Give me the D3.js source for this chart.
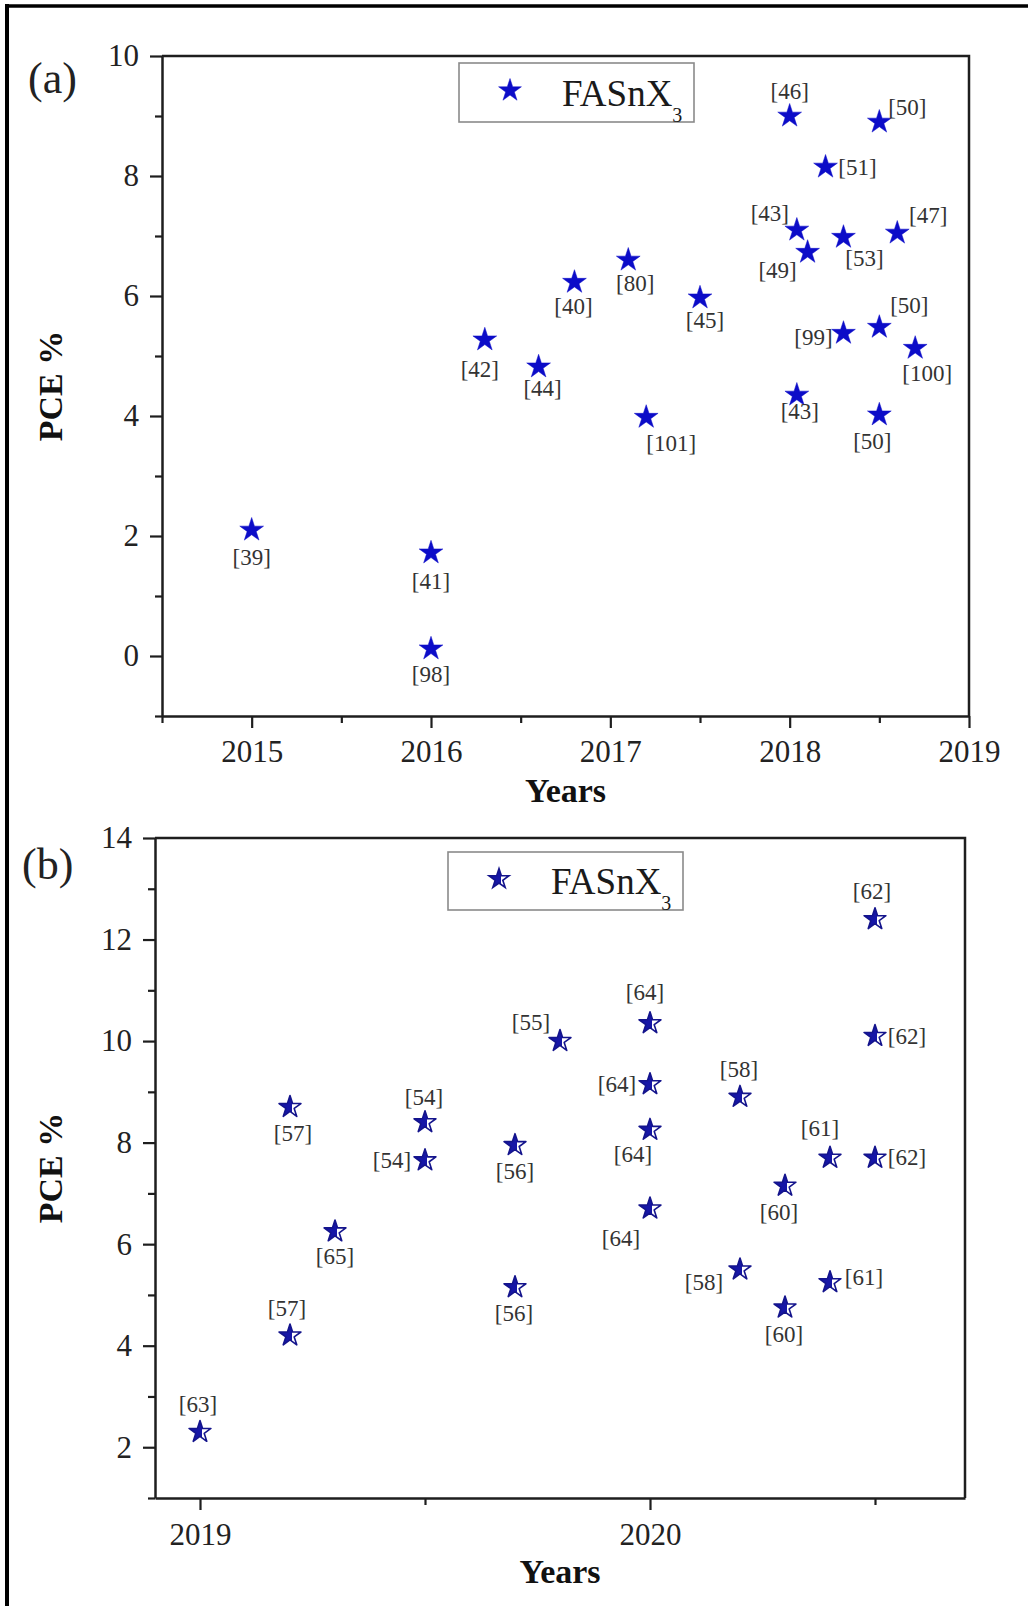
<!DOCTYPE html>
<html>
<head>
<meta charset="utf-8">
<script src="https://cdn.jsdelivr.net/npm/d3@7"></script>
<style>
  body { margin: 0; background: #fff; }
  svg { display: block; }
  text { font-family: "Liberation Serif", "Times New Roman", serif; }
</style>
</head>
<body>
<svg id="chart" width="1028" height="1606"></svg>
<script>
// ---- Panel (a): FASnX3 cells, 2015–2018 ----
const yearsA = [2015, 2016, 2016, 2016.3, 2016.6, 2016.8, 2017.1, 2017.2, 2017.5, 2018.0, 2018.04,
                2018.1, 2018.04, 2018.2, 2018.3, 2018.3, 2018.5, 2018.5, 2018.5, 2018.6, 2018.7];
const pceA   = [2.1, 1.72, 0.12, 5.27, 4.82, 6.23, 6.6, 3.98, 5.97, 9.0, 7.1,
                6.73, 4.35, 8.15, 6.98, 5.38, 8.9, 5.48, 4.02, 7.05, 5.13];
const refsA  = ["[39]", "[41]", "[98]", "[42]", "[44]", "[40]", "[80]", "[101]", "[45]", "[46]", "[43]",
                "[49]", "[43]", "[51]", "[53]", "[99]", "[50]", "[50]", "[50]", "[47]", "[100]"];
// label nudges from each marker, in px
const nudgeA = [[0,27],[0,29],[0,26],[-5,30],[4,22],[-1,24],[7,23],[25,26],[5,23],[0,-25],[-27,-17],
                [-30,18],[3,16],[32,0],[21,21],[-30,4],[28,-15],[30,-22],[-7,27],[31,-18],[12,25]];
const xMajorA = [2015, 2016, 2017, 2018, 2019];
const xMinorA = [2014.5, 2015.5, 2016.5, 2017.5, 2018.5];
const yMajorA = [0, 2, 4, 6, 8, 10];
const yMinorA = [-1, 1, 3, 5, 7, 9];

// ---- Panel (b): FASnX3 cells, 2019–2020 ----
const yearsB = [2019.0, 2019.2, 2019.2, 2019.3, 2019.5, 2019.5, 2019.7, 2019.7, 2019.8, 2020.0, 2020.0,
                2020.0, 2020.0, 2020.2, 2020.2, 2020.3, 2020.3, 2020.4, 2020.4, 2020.5, 2020.5, 2020.5];
const pceB   = [2.3, 4.2, 8.7, 6.25, 8.4, 7.65, 7.95, 5.15, 10.0, 10.35, 9.15,
                8.25, 6.7, 8.9, 5.5, 7.15, 4.75, 7.7, 5.25, 12.4, 10.1, 7.7];
const refsB  = ["[63]", "[57]", "[57]", "[65]", "[54]", "[54]", "[56]", "[56]", "[55]", "[64]", "[64]",
                "[64]", "[64]", "[58]", "[58]", "[60]", "[60]", "[61]", "[61]", "[62]", "[62]", "[62]"];
const nudgeB = [[-2,-28],[-3,-27],[3,26],[0,25],[-1,-25],[-33,0],[0,26],[-1,26],[-29,-19],[-5,-31],[-33,0],
                [-17,25],[-29,30],[-1,-27],[-36,13],[-6,27],[-1,27],[-10,-29],[34,-5],[-3,-28],[32,0],[32,0]];
const xMajorB = [2019, 2020];
const xMinorB = [2019.5, 2020.5];
const yMajorB = [2, 4, 6, 8, 10, 12, 14];
const yMinorB = [1, 3, 5, 7, 9, 11, 13];

const seriesName = "FASnX";
const seriesSub = "3";

const svg = d3.select("#chart");
const ink = "#1e1e1e";

// half-filled star used in panel (b)
const defs = svg.append("defs");
const grad = defs.append("linearGradient").attr("id", "halfStar")
  .attr("x1", 0).attr("x2", 1).attr("y1", 0).attr("y2", 0);
grad.append("stop").attr("offset", "0.58").attr("stop-color", "#1616a6");
grad.append("stop").attr("offset", "0.58").attr("stop-color", "#ffffff");

// outer frame (left and top edges)
svg.append("line").attr("x1", 7).attr("x2", 7).attr("y1", 4).attr("y2", 1606)
  .attr("stroke", "#000").attr("stroke-width", 4);
svg.append("line").attr("x1", 5).attr("x2", 1028).attr("y1", 6).attr("y2", 6)
  .attr("stroke", "#000").attr("stroke-width", 3.5);

function starPath(r) {
  return d3.symbol().type(d3.symbolStar).size(r * r / 0.8908130915292852)();
}

function panel(cfg) {
  const x = d3.scaleLinear().domain(cfg.xDomain).range([cfg.left, cfg.right]);
  const y = d3.scaleLinear().domain(cfg.yDomain).range([cfg.bottom, cfg.top]);
  const g = svg.append("g");

  // plot box (top and right edges)
  g.append("path")
    .attr("d", `M${cfg.left},${cfg.top}H${cfg.right}V${cfg.bottom}`)
    .attr("fill", "none").attr("stroke", ink).attr("stroke-width", 2.5);

  const styleAxis = sel => {
    sel.select(".domain").attr("stroke", ink).attr("stroke-width", 2.5);
    sel.selectAll(".tick line").attr("stroke", ink).attr("stroke-width", 2.2);
    sel.selectAll(".tick text").attr("fill", "#222").attr("font-size", 31)
      .attr("font-family", "'Liberation Serif', 'Times New Roman', serif");
  };

  // minor ticks
  g.append("g").attr("transform", `translate(0,${cfg.bottom})`)
    .call(d3.axisBottom(x).tickValues(cfg.xMinor).tickSize(7).tickSizeOuter(0).tickFormat(""))
    .call(styleAxis).call(s => s.select(".domain").remove());
  g.append("g").attr("transform", `translate(${cfg.left},0)`)
    .call(d3.axisLeft(y).tickValues(cfg.yMinor).tickSize(7).tickSizeOuter(0).tickFormat(""))
    .call(styleAxis).call(s => s.select(".domain").remove());

  // major ticks with labels
  g.append("g").attr("transform", `translate(0,${cfg.bottom})`)
    .call(d3.axisBottom(x).tickValues(cfg.xMajor).tickSize(12).tickSizeOuter(0)
      .tickPadding(cfg.xPad).tickFormat(d3.format("d")))
    .call(styleAxis);
  g.append("g").attr("transform", `translate(${cfg.left},0)`)
    .call(d3.axisLeft(y).tickValues(cfg.yMajor).tickSize(12).tickSizeOuter(0)
      .tickPadding(cfg.yPad).tickFormat(d3.format("d")))
    .call(styleAxis);

  // axis titles
  g.append("text")
    .attr("x", (cfg.left + cfg.right) / 2).attr("y", cfg.xTitleY)
    .attr("text-anchor", "middle").attr("font-weight", "bold").attr("font-size", 34)
    .attr("fill", "#111").text("Years");
  g.append("text")
    .attr("transform", `translate(62,${(cfg.top + cfg.bottom) / 2}) rotate(-90)`)
    .attr("text-anchor", "middle").attr("font-weight", "bold").attr("font-size", 34)
    .attr("fill", "#111").text("PCE %");

  // panel letter
  g.append("text").attr("x", cfg.tagX).attr("y", cfg.tagY)
    .attr("font-size", 44).attr("fill", "#222").text(cfg.tag);

  // legend
  const lg = g.append("g");
  lg.append("rect").attr("x", cfg.legend[0]).attr("y", cfg.legend[1])
    .attr("width", cfg.legend[2]).attr("height", cfg.legend[3])
    .attr("fill", "#fff").attr("stroke", "#8a8a8a").attr("stroke-width", 1.6);
  lg.append("path").attr("d", starPath(cfg.legendStarR))
    .attr("transform", `translate(${cfg.legend[0] + 51},${cfg.legend[1] + cfg.legend[3] / 2 - 2})`)
    .attr("fill", cfg.fill).attr("stroke", cfg.stroke).attr("stroke-width", cfg.strokeW);
  const lt = lg.append("text")
    .attr("x", cfg.legend[0] + 103).attr("y", cfg.legend[1] + cfg.legend[3] / 2 + 13)
    .attr("font-size", 37).attr("fill", "#1a1a1a");
  lt.append("tspan").text(seriesName);
  lt.append("tspan").attr("font-size", 20).attr("dy", 16).text(seriesSub);

  // markers
  const pts = cfg.xs.map((v, i) => ({ x: v, y: cfg.ys[i], ref: cfg.refs[i], n: cfg.nudge[i] }));
  g.append("g").selectAll("path").data(pts).join("path")
    .attr("d", starPath(cfg.starR))
    .attr("transform", d => `translate(${x(d.x)},${y(d.y)})`)
    .attr("fill", cfg.fill).attr("stroke", cfg.stroke).attr("stroke-width", cfg.strokeW)
    .attr("stroke-linejoin", "round");

  // reference labels
  g.append("g").selectAll("text").data(pts).join("text")
    .attr("x", d => x(d.x) + d.n[0]).attr("y", d => y(d.y) + d.n[1])
    .attr("text-anchor", "middle").attr("dominant-baseline", "central")
    .attr("font-size", 23).attr("fill", "#333").text(d => d.ref);
}

panel({
  xDomain: [2014.5, 2019], yDomain: [-1, 10],
  left: 162, right: 969, top: 56, bottom: 716,
  xMajor: xMajorA, xMinor: xMinorA, yMajor: yMajorA, yMinor: yMinorA,
  xPad: 12, yPad: 11, xTitleY: 802,
  tag: "(a)", tagX: 28, tagY: 93,
  legend: [459, 63, 235, 59], legendStarR: 12,
  xs: yearsA, ys: pceA, refs: refsA, nudge: nudgeA,
  starR: 12.5, fill: "#0c0cc8", stroke: "#0c0cc8", strokeW: 0.5
});

panel({
  xDomain: [2018.9, 2020.7], yDomain: [1, 14],
  left: 155, right: 965, top: 838, bottom: 1498,
  xMajor: xMajorB, xMinor: xMinorB, yMajor: yMajorB, yMinor: yMinorB,
  xPad: 13, yPad: 11, xTitleY: 1583,
  tag: "(b)", tagX: 22, tagY: 879,
  legend: [448, 852, 235, 58], legendStarR: 10.5,
  xs: yearsB, ys: pceB, refs: refsB, nudge: nudgeB,
  starR: 11.5, fill: "url(#halfStar)", stroke: "#14148c", strokeW: 1.6
});
</script>
</body>
</html>
